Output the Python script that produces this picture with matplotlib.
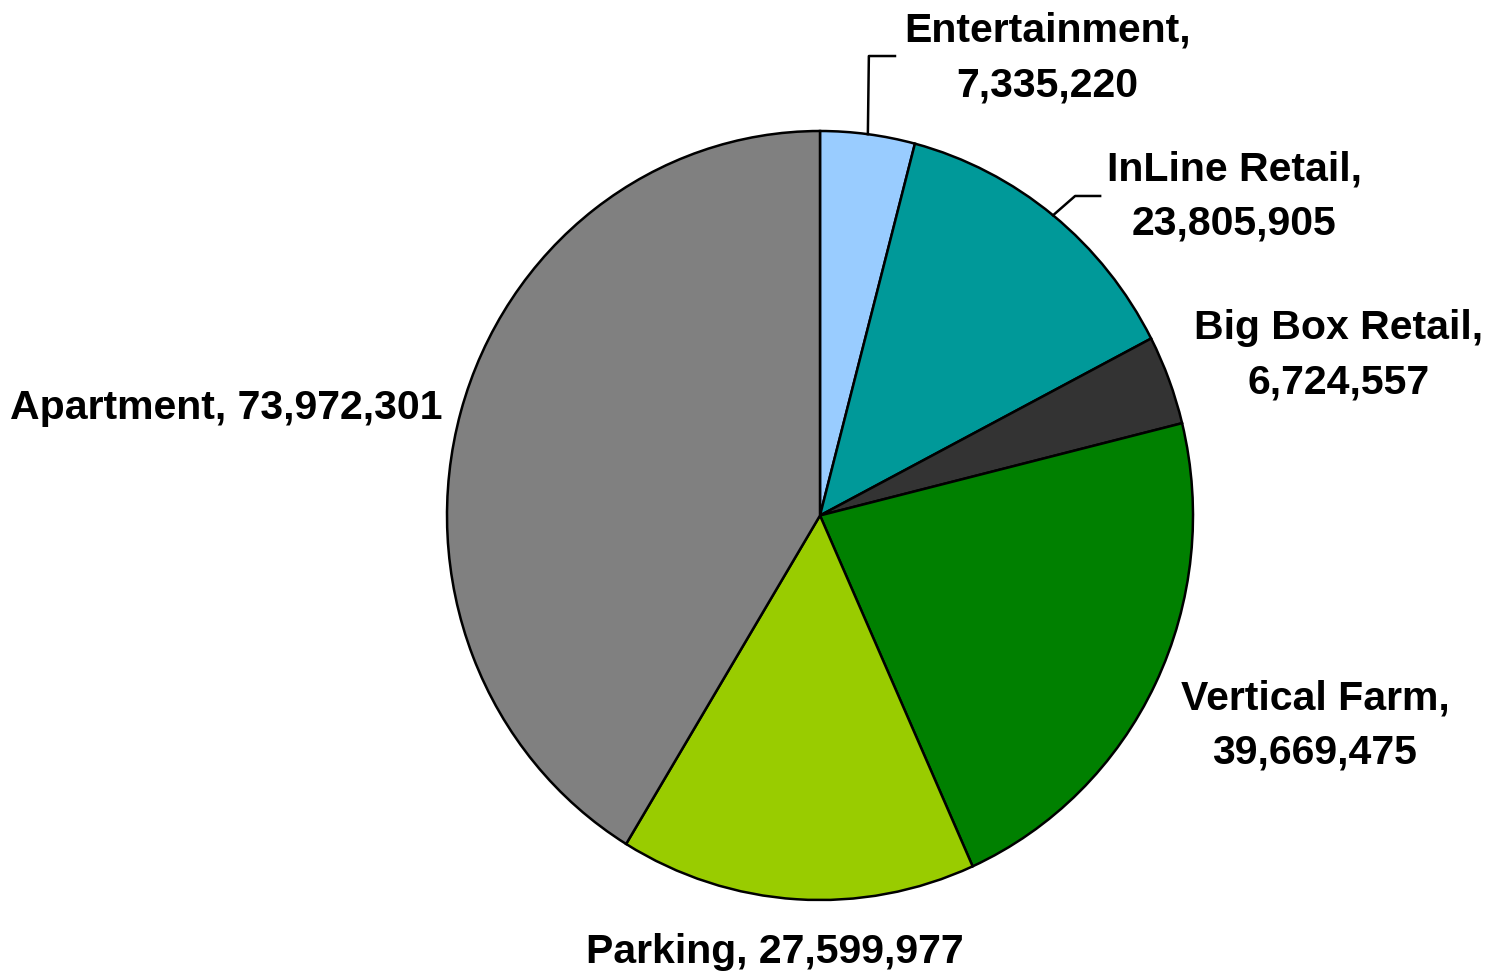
import numpy as np
import matplotlib
matplotlib.use("Agg")
import matplotlib.pyplot as plt

plt.rcParams['font.family'] = ['Liberation Sans', 'DejaVu Sans']

names = ['Entertainment', 'InLine Retail', 'Big Box Retail', 'Vertical Farm', 'Parking', 'Apartment']
values = [7335220, 23805905, 6724557, 39669475, 27599977, 73972301]
colors = ['#99CCFF', '#009999', '#333333', '#008000', '#99CC00', '#808080']
label_text = ['Entertainment,\n7,335,220', 'InLine Retail,\n23,805,905', 'Big Box Retail,\n6,724,557',
              'Vertical Farm,\n39,669,475', 'Parking, 27,599,977', 'Apartment, 73,972,301']

# label layout (data coords, pie radius 1)
label_pos = [(0.609, 1.19), (1.110, 0.83), (1.389, 0.418), (1.327, -0.546), (-0.121, -1.135), (-1.013, 0.280)]
label_ha = ['center', 'center', 'center', 'center', 'center', 'right']
# leader lines: (elbow, end) for the small slices
leaders = {0: [(0.131, 1.195), (0.201, 1.195)], 1: [(0.684, 0.831), (0.751, 0.831)]}

fig = plt.figure(figsize=(14.89, 9.74), dpi=100)
ax = fig.add_axes([(820 - 373) / 1489, 74 / 974, 746 / 1489, 769 / 974])
wedges, _ = ax.pie(values, colors=colors, startangle=90, counterclock=False, radius=1,
                   wedgeprops=dict(edgecolor='black', linewidth=1.8))
ax.set_aspect('auto')
ax.set_xlim(-1, 1)
ax.set_ylim(-1, 1)
ax.axis('off')

for i, w in enumerate(wedges):
    x, y = label_pos[i]
    ax.text(x, y, label_text[i], ha=label_ha[i], va='center', fontsize=29.5, fontweight='bold',
            linespacing=1.55, clip_on=False)
    if i in leaders:
        ang = np.deg2rad((w.theta1 + w.theta2) / 2)
        pts = [(np.cos(ang), np.sin(ang))] + leaders[i]
        ax.plot([p[0] for p in pts], [p[1] for p in pts], color='black', lw=1.8, clip_on=False)

fig.savefig('out.png', dpi=100)
